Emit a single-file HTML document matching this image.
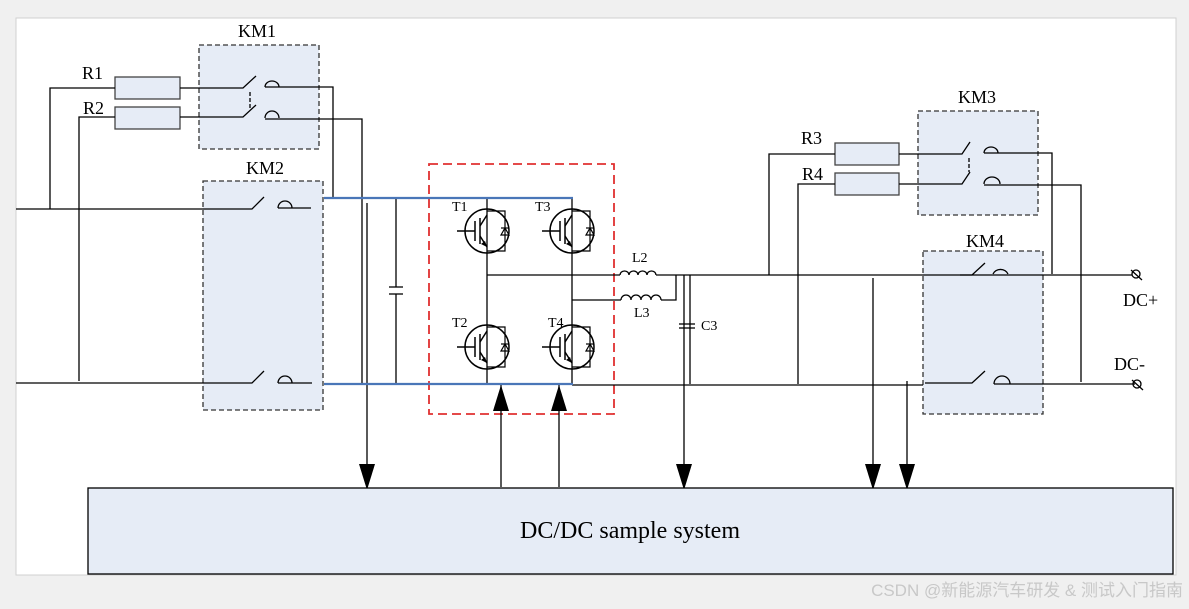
<!DOCTYPE html>
<html><head><meta charset="utf-8"><style>
html,body{margin:0;padding:0;background:#f0f0f0;width:1189px;height:609px;overflow:hidden}
svg{display:block}
text{font-family:"Liberation Serif",serif;fill:#000}
</style></head><body>
<svg width="1189" height="609" viewBox="0 0 1189 609" xmlns="http://www.w3.org/2000/svg">
<defs>
<g id="igbt">
 <circle cx="0" cy="0" r="22" fill="none" stroke="#000" stroke-width="1.5"/>
 <line x1="-30" y1="0" x2="-12" y2="0" stroke="#000" stroke-width="1.5"/>
 <line x1="-12" y1="-10" x2="-12" y2="10" stroke="#000" stroke-width="1.5"/>
 <line x1="-7" y1="-13" x2="-7" y2="13" stroke="#000" stroke-width="1.5"/>
 <line x1="-7" y1="-5" x2="0" y2="-16" stroke="#000" stroke-width="1.5"/>
 <line x1="-7" y1="5" x2="0" y2="16" stroke="#000" stroke-width="1.5"/>
 <polygon points="0,16 -6,13 -2,10" fill="#000"/>
 <polyline points="0,-20 18,-20 18,20 0,20" fill="none" stroke="#000" stroke-width="1.2"/>
 <polygon points="14,4 22,4 18,-3" fill="none" stroke="#000" stroke-width="1.2"/>
 <line x1="14" y1="-3" x2="22" y2="-3" stroke="#000" stroke-width="1.2"/>
</g>
<marker id="ad" viewBox="0 0 26 16" refX="26" refY="8" markerWidth="26" markerHeight="16" markerUnits="userSpaceOnUse" orient="auto"><polygon points="0,0 26,8 0,16" fill="#000"/></marker>
</defs>
<rect x="16" y="18" width="1160" height="557" fill="#fff" stroke="#d0d0d0"/>
<g fill="#e6ecf6" stroke="#333" stroke-width="1.3" stroke-dasharray="5,3">
 <rect x="199" y="45" width="120" height="104"/>
 <rect x="203" y="181" width="120" height="229"/>
 <rect x="918" y="111" width="120" height="104"/>
 <rect x="923" y="251" width="120" height="163"/>
</g>
<rect x="429" y="164" width="185" height="250" fill="none" stroke="#e03030" stroke-width="1.8" stroke-dasharray="9,5"/>
<g fill="#e6ecf6" stroke="#444" stroke-width="1.3">
 <rect x="115" y="77" width="65" height="22"/><rect x="115" y="107" width="65" height="22"/>
 <rect x="835" y="143" width="64" height="22"/><rect x="835" y="173" width="64" height="22"/>
</g>
<g fill="none" stroke="#000" stroke-width="1.3">
 <polyline points="16,209 252,209 264,197"/>
 <path d="M278,208 a7,7 0 0 1 14,0"/><line x1="278" y1="208" x2="311" y2="208"/>
 <polyline points="16,383 252,383 264,371"/>
 <path d="M278,383 a7,7 0 0 1 14,0"/><line x1="278" y1="383" x2="312" y2="383"/>
 <polyline points="50,209 50,88 115,88"/>
 <polyline points="79,381 79,117 115,117"/>
 <polyline points="180,88 243,88 256,76"/>
 <path d="M265,87 a7,6 0 0 1 14,0"/><polyline points="265,87 333,87 333,198"/>
 <polyline points="180,117 243,117 256,105"/>
 <path d="M265,118 a7,7 0 0 1 14,0"/><polyline points="265,119 362,119 362,383"/>
 <line x1="250" y1="92" x2="250" y2="108" stroke-dasharray="4,2"/>
 <line x1="367" y1="203" x2="367" y2="490" marker-end="url(#ad)"/>
 <line x1="396" y1="198" x2="396" y2="287"/><line x1="396" y1="294" x2="396" y2="384"/>
 <line x1="389" y1="287" x2="403" y2="287"/><line x1="389" y1="294" x2="403" y2="294"/>
 <line x1="487" y1="198" x2="487" y2="384"/><line x1="572" y1="198" x2="572" y2="384"/>
 <line x1="487" y1="275" x2="620" y2="275"/><line x1="572" y1="300" x2="621" y2="300"/>
 <path d="M620,275 a4.5,4 0 0 1 9,0 a4.5,4 0 0 1 9,0 a4.5,4 0 0 1 9,0 a4.5,4 0 0 1 9,0"/>
 <path d="M621,300 a5,5 0 0 1 10,0 a5,5 0 0 1 10,0 a5,5 0 0 1 10,0 a5,5 0 0 1 10,0"/>
 <line x1="656" y1="275" x2="1132" y2="275"/>
 <polyline points="661,300 676,300 676,275"/>
 <line x1="684" y1="275" x2="684" y2="490" marker-end="url(#ad)"/>
 <line x1="690" y1="275" x2="690" y2="384"/>
 <line x1="679" y1="324" x2="695" y2="324"/><line x1="679" y1="328" x2="695" y2="328"/>
 <line x1="572" y1="385" x2="923" y2="385"/>
 <line x1="501" y1="487" x2="501" y2="385" marker-end="url(#ad)"/>
 <line x1="559" y1="487" x2="559" y2="385" marker-end="url(#ad)"/>
 <polyline points="769,275 769,154 835,154"/>
 <polyline points="798,384 798,184 835,184"/>
 <polyline points="899,154 962,154 970,142"/>
 <path d="M984,153 a7,6 0 0 1 14,0"/><polyline points="984,153 1052,153 1052,274"/>
 <polyline points="899,184 962,184 970,172"/>
 <path d="M984,184 a8,7 0 0 1 16,0"/><polyline points="984,185 1081,185 1081,382"/>
 <line x1="969" y1="158" x2="969" y2="172" stroke-dasharray="4,2"/>
 <polyline points="960,275 972,275 985,263"/>
 <path d="M993,274 a8,7 0 0 1 15,0"/>
 <polyline points="925,383 972,383 985,371"/>
 <path d="M994,384 a8,8 0 0 1 16,0"/><line x1="994" y1="384" x2="1135" y2="384"/>
 <line x1="873" y1="278" x2="873" y2="490" marker-end="url(#ad)"/>
 <line x1="907" y1="381" x2="907" y2="490" marker-end="url(#ad)"/>
 <circle cx="1136" cy="274" r="4"/><line x1="1131" y1="270" x2="1142" y2="280"/>
 <circle cx="1137" cy="384" r="4"/><line x1="1132" y1="380" x2="1143" y2="390"/>
</g>
<g stroke="#4a76b8" stroke-width="2.2">
 <line x1="324" y1="198" x2="573" y2="198"/><line x1="324" y1="384" x2="573" y2="384"/>
</g>
<use href="#igbt" x="487" y="231"/><use href="#igbt" x="572" y="231"/>
<use href="#igbt" x="487" y="347"/><use href="#igbt" x="572" y="347"/>
<rect x="88" y="488" width="1085" height="86" fill="#e6ecf6" stroke="#000" stroke-width="1.3"/>
<g font-size="18">
 <text x="238" y="37">KM1</text><text x="246" y="174">KM2</text>
 <text x="958" y="103">KM3</text><text x="966" y="247">KM4</text>
 <text x="82" y="79">R1</text><text x="83" y="114">R2</text>
 <text x="801" y="144">R3</text><text x="802" y="180">R4</text>
 <text x="1123" y="306">DC+</text><text x="1114" y="370">DC-</text>
</g>
<g font-size="14">
 <text x="452" y="211">T1</text><text x="535" y="211">T3</text>
 <text x="452" y="327">T2</text><text x="548" y="327">T4</text>
 <text x="632" y="262">L2</text><text x="634" y="317">L3</text><text x="701" y="330">C3</text>
</g>
<text x="630" y="538" font-size="24" text-anchor="middle">DC/DC sample system</text>
<text x="1183" y="596" font-size="17" text-anchor="end" style="font-family:'Liberation Sans','Noto Sans CJK SC',sans-serif;fill:#c8c8c8">CSDN @新能源汽车研发 &amp; 测试入门指南</text>
</svg>
</body></html>
